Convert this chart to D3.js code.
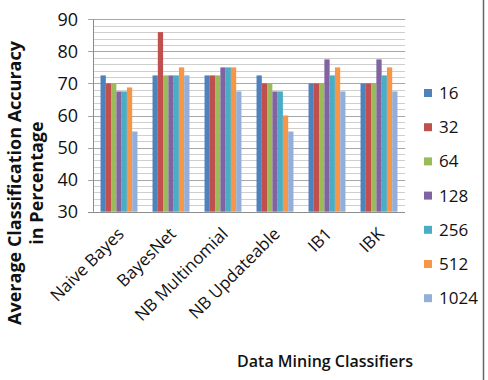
<!doctype html>
<html lang="en">
  <head>
    <meta charset="utf-8">
    <title>Average Classification Accuracy</title>
    <script src="https://d3js.org/d3.v7.min.js"></script>
    <style>
    body {
      margin: 0;
      background: #fff;
    }
    text {
      font-family: "Open Sans", sans-serif;
      fill: #111;
    }
    </style>
  </head>

  <body>
    <svg width="488" height="380"></svg>

    <script>
      var classifiers = ['Naive Bayes', 'BayesNet', 'NB Multinomial', 'NB Updateable', 'IB1', 'IBK'];
      var sizes = ['16', '32', '64', '128', '256', '512', '1024'];
      var colors = ['#4F81BD', '#C0504D', '#9BBB59', '#8064A2', '#4BACC6', '#F79646', '#95AED8'];

      // one array per series, in classifier order
      var s16   = [72.5, 72.5, 72.5, 72.5, 70, 70];
      var s32   = [70, 86, 72.5, 70, 70, 70];
      var s64   = [70, 72.5, 72.5, 70, 70, 70];
      var s128  = [67.5, 72.5, 75, 67.5, 77.5, 77.5];
      var s256  = [67.5, 72.5, 75, 67.5, 72.5, 72.5];
      var s512  = [68.75, 75, 75, 60, 75, 75];
      var s1024 = [55, 72.5, 67.5, 55, 67.5, 67.5];
      var series = [s16, s32, s64, s128, s256, s512, s1024];

      var yTicks = [30, 40, 50, 60, 70, 80, 90];

      var svg = d3.select('svg');

      var plotLeft = 93, plotRight = 405, plotTop = 19.3, plotBottom = 211.7;

      var x = d3.scaleBand()
        .domain(classifiers)
        .range([plotLeft, plotRight])
        .paddingInner(0.29)
        .paddingOuter(0.145);

      var xInner = d3.scaleBand()
        .domain(sizes)
        .range([0, x.bandwidth()]);

      var y = d3.scaleLinear()
        .domain([30, 90])
        .range([plotBottom, plotTop]);

      // minor gridlines every 2, major every 10
      var minor = d3.range(32, 91, 2).filter(function(v){ return v % 10 !== 0; });
      svg.append('g').selectAll('line').data(minor)
        .enter().append('line')
          .attr('x1', plotLeft).attr('x2', plotRight)
          .attr('y1', function(d){ return Math.round(y(d)) + 0.5; })
          .attr('y2', function(d){ return Math.round(y(d)) + 0.5; })
          .attr('stroke', '#cfcfcf')
          .attr('stroke-width', 1);

      svg.append('g').selectAll('line').data(yTicks.slice(1))
        .enter().append('line')
          .attr('x1', plotLeft - 5).attr('x2', plotRight)
          .attr('y1', function(d){ return Math.round(y(d)) + 0.5; })
          .attr('y2', function(d){ return Math.round(y(d)) + 0.5; })
          .attr('stroke', '#a6a6a6')
          .attr('stroke-width', 1);

      // bars
      var groups = svg.append('g').selectAll('g').data(classifiers)
        .enter().append('g')
          .attr('transform', function(d){ return 'translate(' + x(d) + ',0)'; });

      groups.selectAll('rect')
        .data(function(d, i){
          return sizes.map(function(s, j){ return {size: s, value: series[j][i], color: colors[j]}; });
        })
        .enter().append('rect')
          .attr('x', function(d){ return xInner(d.size); })
          .attr('width', xInner.bandwidth())
          .attr('y', function(d){ return y(d.value); })
          .attr('height', function(d){ return plotBottom - y(d.value); })
          .attr('fill', function(d){ return d.color; });

      // axis lines
      svg.append('line')
        .attr('x1', plotLeft + 0.5).attr('x2', plotLeft + 0.5)
        .attr('y1', plotTop).attr('y2', plotBottom)
        .attr('stroke', '#8c8c8c');
      svg.append('line')
        .attr('x1', plotLeft - 5).attr('x2', plotRight)
        .attr('y1', Math.round(plotBottom) + 0.5).attr('y2', Math.round(plotBottom) + 0.5)
        .attr('stroke', '#8c8c8c');

      // y tick labels
      svg.append('g').selectAll('text').data(yTicks)
        .enter().append('text')
          .attr('x', 78)
          .attr('y', function(d){ return y(d) + 6.5; })
          .attr('text-anchor', 'end')
          .style('font-size', '18px')
          .text(function(d){ return d; });

      // x labels, rotated
      svg.append('g').selectAll('text').data(classifiers)
        .enter().append('text')
          .attr('transform', function(d){
            return 'translate(' + (x(d) + x.bandwidth() / 2 + 6) + ',235) rotate(-45)';
          })
          .attr('text-anchor', 'end')
          .style('font-size', '17px')
          .text(function(d){ return d; });

      // legend
      var legend = svg.append('g').selectAll('g').data(sizes)
        .enter().append('g')
          .attr('transform', function(d, i){ return 'translate(424,' + (93 + i * 34.2) + ')'; });
      legend.append('rect')
        .attr('x', 0).attr('y', -4)
        .attr('width', 8).attr('height', 8)
        .attr('fill', function(d, i){ return colors[i]; });
      legend.append('text')
        .attr('x', 15).attr('y', 6)
        .style('font-size', '17px')
        .text(function(d){ return d; });

      // axis titles
      svg.append('text')
        .attr('x', 325).attr('y', 367)
        .attr('text-anchor', 'middle')
        .style('font-size', '16px')
        .style('font-weight', '600')
        .text('Data Mining Classifiers');

      var yTitle = svg.append('text')
        .attr('transform', 'translate(21,183) rotate(-90)')
        .attr('text-anchor', 'middle')
        .style('font-size', '18px')
        .style('font-weight', 'bold');
      yTitle.append('tspan').attr('x', 0).attr('y', 0).text('Average Classification Accuracy');
      yTitle.append('tspan').attr('x', 0).attr('y', 22).text('in Percentage');

      // right border of the frame
      svg.append('line')
        .attr('x1', 483.5).attr('x2', 483.5)
        .attr('y1', 0).attr('y2', 380)
        .attr('stroke', '#666')
        .attr('stroke-width', 1.5);
    </script>
  </body>
</html>
